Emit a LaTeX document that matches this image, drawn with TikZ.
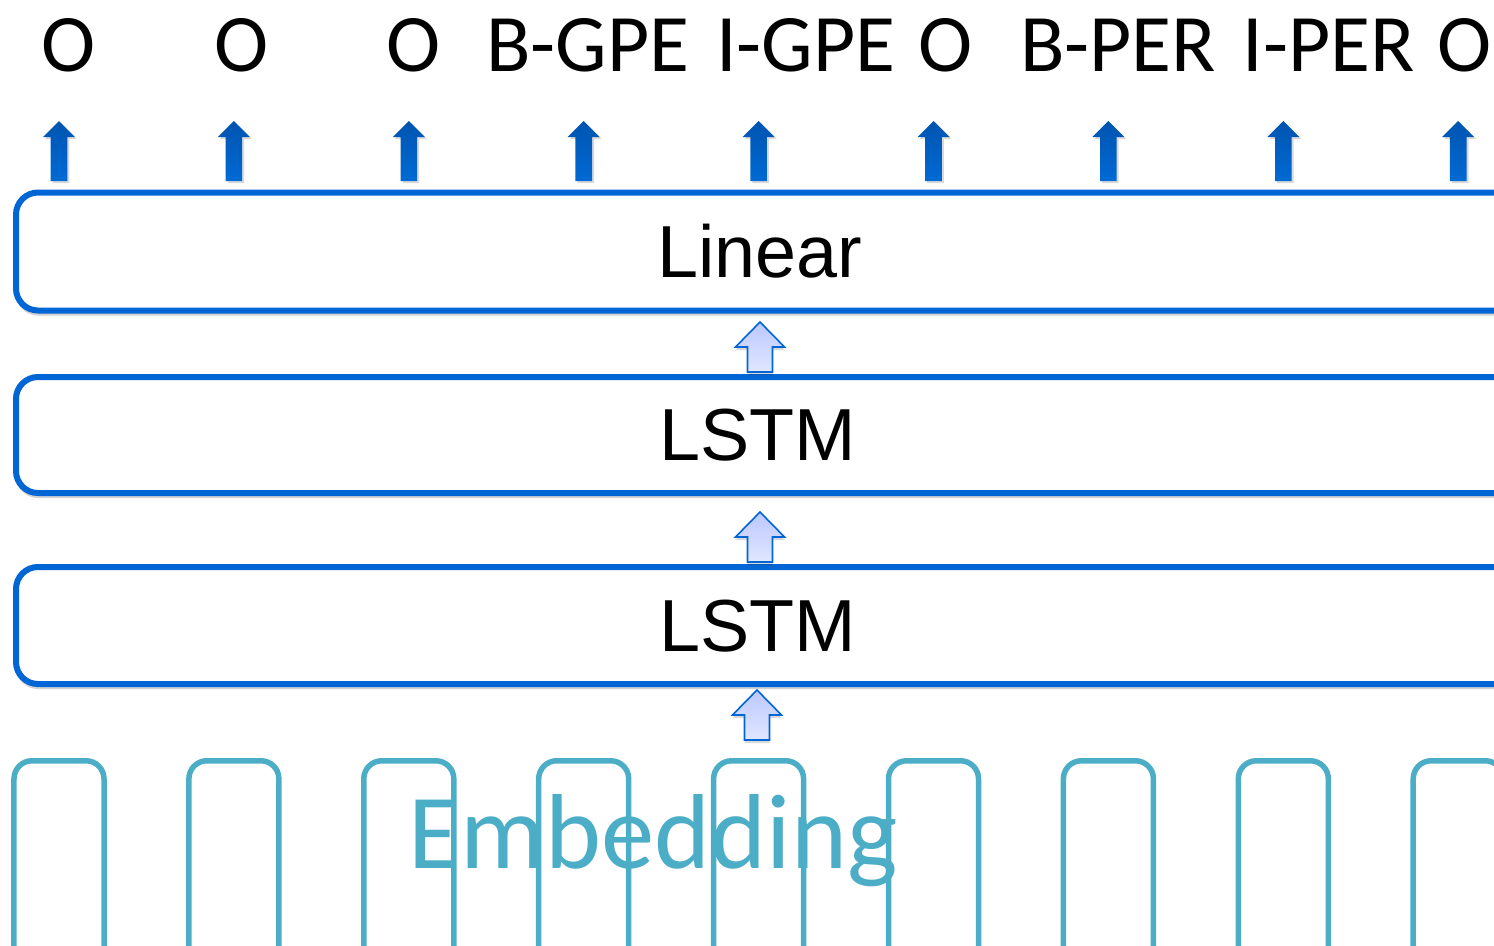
\documentclass[tikz,border=0pt]{standalone}
\usepackage{fontspec}
\newfontfamily\carlitofont{Carlito}
\newfontfamily\arialfont{Liberation Sans}
\usetikzlibrary{shadows}
\definecolor{boxblue}{RGB}{0,102,214}
\definecolor{embteal}{RGB}{76,173,199}
\definecolor{arrtop}{RGB}{0,84,176}
\definecolor{arrbot}{RGB}{0,106,212}
\definecolor{hollowtop}{RGB}{188,200,255}
\definecolor{hollowbot}{RGB}{224,231,255}
\tikzset{
  layerbox/.style={draw=boxblue, line width=6bp, rounded corners=22bp, fill=white,
    minimum width=1600bp, anchor=west, inner sep=0pt,
    drop shadow={shadow xshift=0bp, shadow yshift=-5bp, opacity=0.18, fill=black}},
  embbox/.style={draw=embteal, line width=5.5bp, rounded corners=18bp,
    minimum width=90bp, minimum height=320bp, anchor=north, inner sep=0pt},
  tag/.style={font=\carlitofont\fontsize{82}{82}\selectfont, anchor=base, inner sep=0pt},
  layerlabel/.style={font=\arialfont\fontsize{74}{74}\selectfont, anchor=base, inner sep=0pt},
  embtext/.style={font=\carlitofont\fontsize{107}{107}\selectfont, text=embteal, anchor=base, inner sep=0pt},
  outarrow/.style={top color=arrtop, bottom color=arrbot, draw=none,
    drop shadow={shadow xshift=2bp, shadow yshift=-2bp, opacity=0.15, fill=black}},
  feedarrow/.style={top color=hollowtop, bottom color=hollowbot, draw=boxblue,
    line width=1.6bp, line join=miter,
    drop shadow={shadow xshift=0bp, shadow yshift=-3bp, opacity=0.15, fill=black}},
  pics/outarr/.style={code={
    \path[outarrow] (-8.3,0) -- (-8.3,-44) -- (-16,-44) -- (0,-60) -- (16,-44)
      -- (8.3,-44) -- (8.3,0) -- cycle;}},
  pics/feedarr/.style={code={
    \path[feedarrow] (-12.5,0) -- (-12.5,-25) -- (-24.5,-25) -- (0,-50) -- (24.5,-25)
      -- (12.5,-25) -- (12.5,0) -- cycle;}},
}
\begin{document}
\begin{tikzpicture}[x=1bp,y=-1bp]
\useasboundingbox (0,0) rectangle (1494,945);
\clip (0,0) rectangle (1494,945);

% embedding boxes
\foreach \i in {0,...,8} {
  \node[embbox] (emb\i) at ({59+174.9*\i},758) {};
}
\node[embtext] (embtxt) at (653,868) {Embedding};

% layer boxes
\node[layerbox, minimum height=117bp] (lstmA) at (13,625.5) {};
\node[layerbox, minimum height=116bp] (lstmB) at (13,435) {};
\node[layerbox, minimum height=118bp] (linear) at (13,251.5) {};

\node[layerlabel] (lstmAlabel) at (758,651) {LSTM};
\node[layerlabel] (lstmBlabel) at (758,460) {LSTM};
\node[layerlabel] (linearlabel) at (760,277) {Linear};

% hollow feed arrows between layers
\pic at (757,740) {feedarr};
\pic at (760,562) {feedarr};
\pic at (760,372) {feedarr};

% output arrows
\foreach \i in {0,...,8} {
  \pic at ({59+174.9*\i},181) {outarr};
}

% output tags
\node[tag] (t0) at (69,71) {O};
\node[tag] (t1) at (242,71) {O};
\node[tag] (t2) at (414,71) {O};
\node[tag] (t3) at (588,71) {B-GPE};
\node[tag] (t4) at (806,71) {I-GPE};
\node[tag] (t5) at (946,71) {O};
\node[tag] (t6) at (1118,71) {B-PER};
\node[tag] (t7) at (1329,71) {I-PER};
\node[tag] (t8) at (1465,71) {O};
\end{tikzpicture}
\end{document}
